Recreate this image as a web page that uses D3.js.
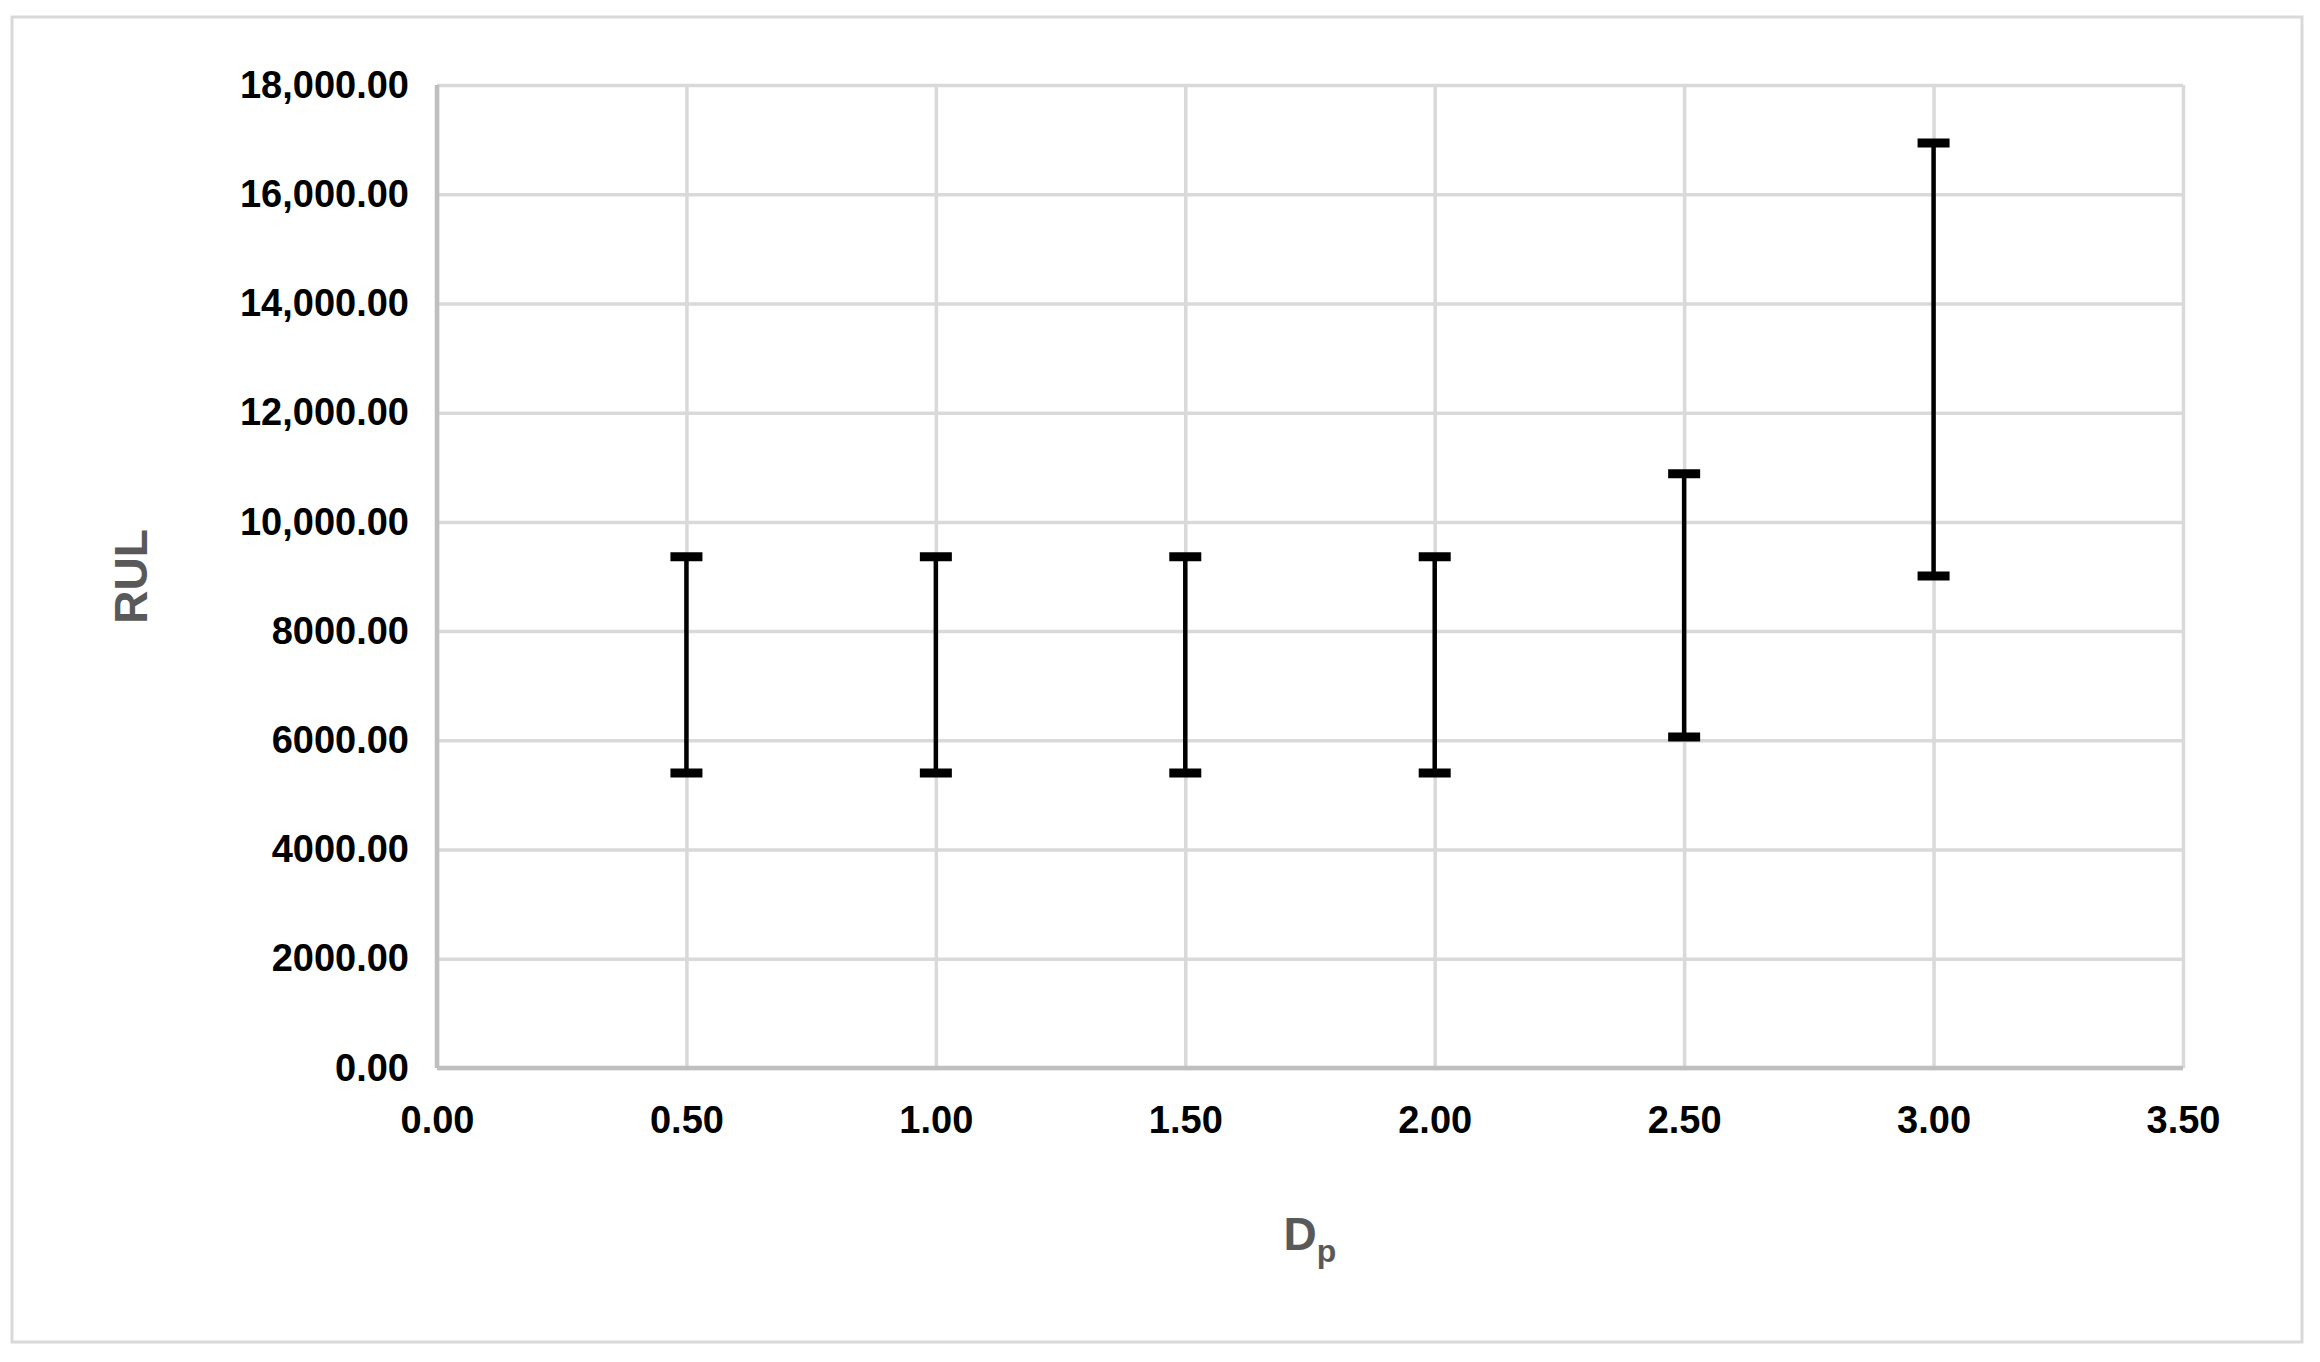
<!DOCTYPE html>
<html>
<head>
<meta charset="utf-8">
<script src="https://cdn.jsdelivr.net/npm/d3@7.9.0/dist/d3.min.js"></script>
<style>
  html, body { margin: 0; padding: 0; background: #fff; }
  svg { display: block; }
  text { font-family: "Liberation Sans", Arial, sans-serif; }
</style>
</head>
<body>
<svg id="chart" width="2320" height="1362"></svg>
<script>
// Dp values and the RUL range (low / high end of each bar)
const dpValues = [0.5, 1.0, 1.5, 2.0, 2.5, 3.0];
const rulLow  = [5400, 5400, 5400, 5400, 6060, 9010];
const rulHigh = [9360, 9360, 9360, 9360, 10880, 16940];

// axis ticks
const xTicks = [0, 0.5, 1, 1.5, 2, 2.5, 3, 3.5];
const xTickLabels = ["0.00", "0.50", "1.00", "1.50", "2.00", "2.50", "3.00", "3.50"];
const yTicks = [0, 2000, 4000, 6000, 8000, 10000, 12000, 14000, 16000, 18000];
const yTickLabels = ["0.00", "2000.00", "4000.00", "6000.00", "8000.00",
  "10,000.00", "12,000.00", "14,000.00", "16,000.00", "18,000.00"];

const svg = d3.select("#chart");
const W = 2320, H = 1362;
const margin = { left: 437, right: W - 2183, top: 85, bottom: H - 1068 };
const plotW = W - margin.left - margin.right;
const plotH = H - margin.top - margin.bottom;

// outer frame
svg.append("rect")
  .attr("x", 12).attr("y", 17)
  .attr("width", 2290).attr("height", 1325)
  .attr("fill", "#fff")
  .attr("stroke", "#d9d9d9")
  .attr("stroke-width", 3);

const x = d3.scaleLinear().domain([0, 3.5]).range([0, plotW]);
const y = d3.scaleLinear().domain([0, 18000]).range([plotH, 0]);

const g = svg.append("g").attr("transform", `translate(${margin.left},${margin.top})`);

// y axis with gridlines
const yAxis = g.append("g")
  .call(d3.axisLeft(y)
    .tickValues(yTicks)
    .tickSize(-plotW)
    .tickPadding(28)
    .tickFormat((d, i) => yTickLabels[i]));
yAxis.select(".domain").remove();
yAxis.selectAll("line").attr("stroke", "#d9d9d9").attr("stroke-width", 3.5);
yAxis.selectAll("text")
  .attr("font-size", 38)
  .attr("font-weight", "bold")
  .attr("fill", "#000")
  .attr("font-family", "'Liberation Sans', Arial, sans-serif");

// x axis with gridlines
const xAxis = g.append("g")
  .attr("transform", `translate(0,${plotH})`)
  .call(d3.axisBottom(x)
    .tickValues(xTicks)
    .tickSize(-plotH)
    .tickPadding(38)
    .tickFormat((d, i) => xTickLabels[i]));
xAxis.select(".domain").remove();
xAxis.selectAll("line").attr("stroke", "#d9d9d9").attr("stroke-width", 3.5);
xAxis.selectAll("text")
  .attr("font-size", 38)
  .attr("font-weight", "bold")
  .attr("fill", "#000")
  .attr("font-family", "'Liberation Sans', Arial, sans-serif");

// axis lines (left and bottom), a bit darker than the grid
g.append("line")
  .attr("x1", 0).attr("x2", 0).attr("y1", 0).attr("y2", plotH)
  .attr("stroke", "#bfbfbf").attr("stroke-width", 4.5);
g.append("line")
  .attr("x1", 0).attr("x2", plotW).attr("y1", plotH).attr("y2", plotH)
  .attr("stroke", "#bfbfbf").attr("stroke-width", 4.5);

// error bars
const bars = dpValues.map((d, i) => ({ dp: d, lo: rulLow[i], hi: rulHigh[i] }));
const capW = 32;

const bar = g.selectAll(".bar")
  .data(bars)
  .enter()
  .append("g")
  .attr("class", "bar");

bar.append("line")
  .attr("x1", d => x(d.dp)).attr("x2", d => x(d.dp))
  .attr("y1", d => y(d.hi)).attr("y2", d => y(d.lo))
  .attr("stroke", "#000").attr("stroke-width", 4.5);

bar.append("line")
  .attr("x1", d => x(d.dp) - capW / 2).attr("x2", d => x(d.dp) + capW / 2)
  .attr("y1", d => y(d.hi)).attr("y2", d => y(d.hi))
  .attr("stroke", "#000").attr("stroke-width", 9);

bar.append("line")
  .attr("x1", d => x(d.dp) - capW / 2).attr("x2", d => x(d.dp) + capW / 2)
  .attr("y1", d => y(d.lo)).attr("y2", d => y(d.lo))
  .attr("stroke", "#000").attr("stroke-width", 9);

// axis titles
svg.append("text")
  .attr("transform", `translate(147,${margin.top + plotH / 2}) rotate(-90)`)
  .attr("text-anchor", "middle")
  .attr("font-size", 46)
  .attr("font-weight", "bold")
  .attr("fill", "#595959")
  .text("RUL");

const xTitle = svg.append("text")
  .attr("x", margin.left + plotW / 2)
  .attr("y", 1250)
  .attr("text-anchor", "middle")
  .attr("font-size", 46)
  .attr("font-weight", "bold")
  .attr("fill", "#595959");
xTitle.append("tspan").text("D");
xTitle.append("tspan")
  .attr("font-size", 32)
  .attr("dy", 12)
  .text("p");
</script>
</body>
</html>
